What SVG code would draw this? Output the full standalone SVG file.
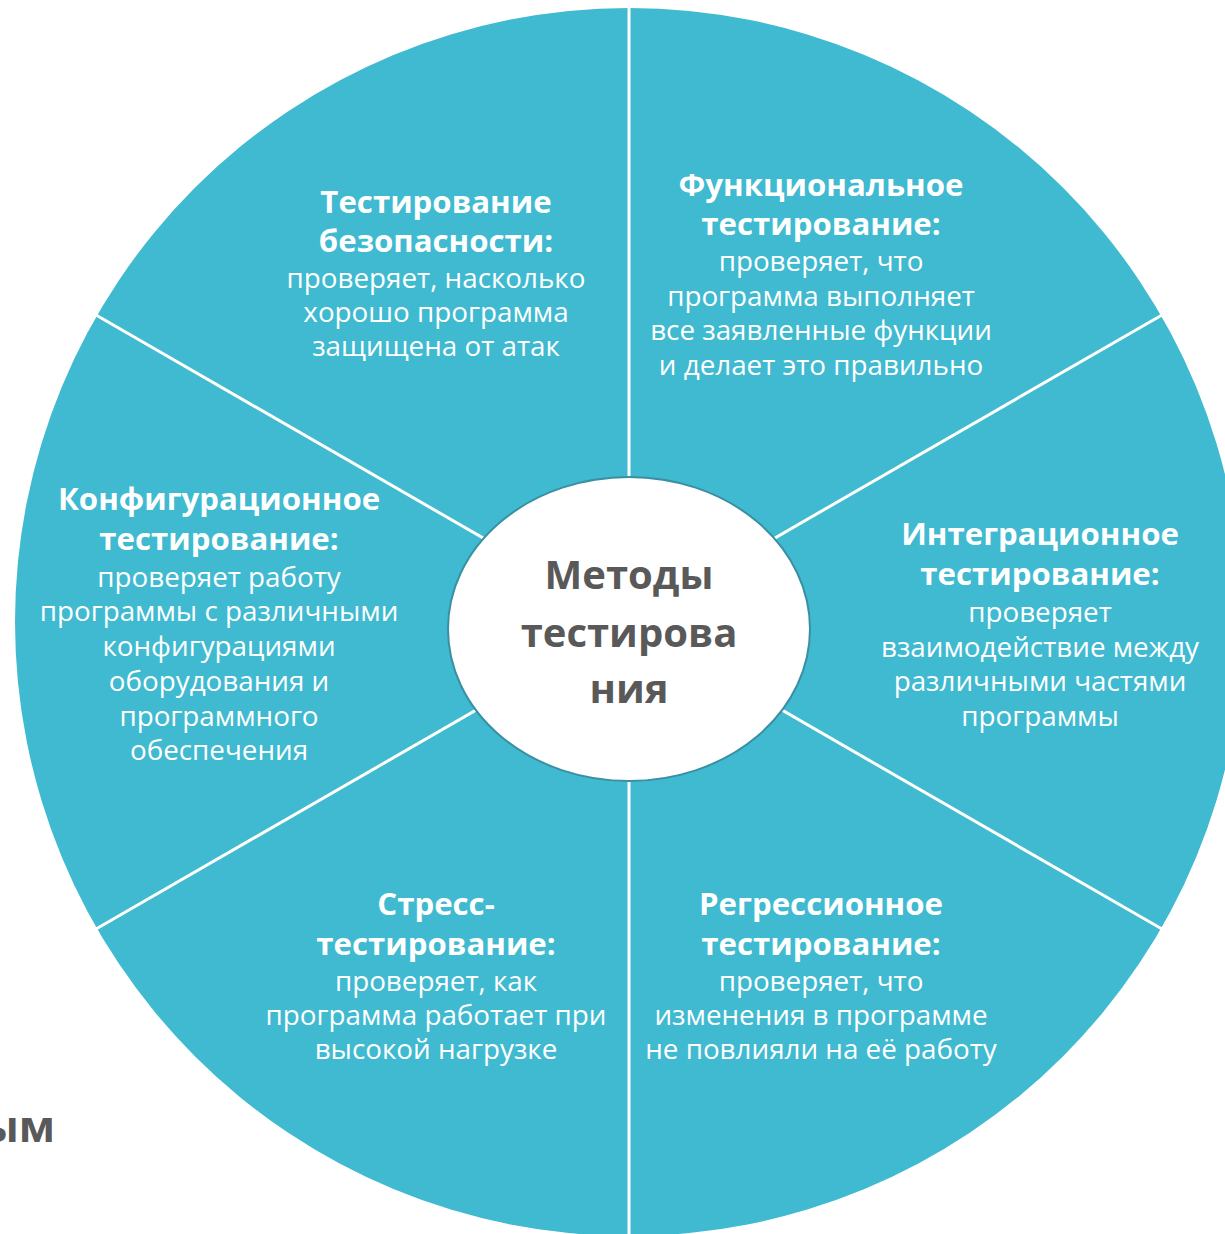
<svg xmlns="http://www.w3.org/2000/svg" width="1225" height="1234" viewBox="0 0 1225 1234">
<style>
.t{font-family:"Open Sans","Noto Sans","DejaVu Sans",sans-serif;fill:#fff;text-anchor:middle}
.h{font-weight:700;font-size:31.2px}
.b{font-size:27.8px}
.c{font-family:"Open Sans","Noto Sans","DejaVu Sans",sans-serif;fill:#595959;font-weight:700;font-size:40px;text-anchor:middle}
.div{stroke:#fff;stroke-width:3;fill:none}
</style>
<rect width="1225" height="1234" fill="#fff"/>
<text class="c" x="55" y="1142" style="text-anchor:end;font-size:43px">ым</text>
<circle id="wheel" cx="629" cy="622" r="614" fill="#3FBAD0"/>
<g id="connectors">
<line class="div" x1="629" y1="0" x2="629" y2="1234"/>
<line class="div" x1="629" y1="622" x2="96" y2="315"/>
<line class="div" x1="629" y1="622" x2="1162" y2="315"/>
<line class="div" x1="629" y1="622" x2="96" y2="929"/>
<line class="div" x1="629" y1="622" x2="1162" y2="929"/>
</g>
<g id="security">
<text class="t h" x="436" y="213">Тестирование</text>
<text class="t h" x="436" y="252">безопасности:</text>
<text class="t b" x="436" y="288">проверяет, насколько</text>
<text class="t b" x="436" y="322">хорошо программа</text>
<text class="t b" x="436" y="356">защищена от атак</text>
</g>
<g id="functional">
<text class="t h" x="821" y="196">Функциональное</text>
<text class="t h" x="821" y="235">тестирование:</text>
<text class="t b" x="821" y="271">проверяет, что</text>
<text class="t b" x="821" y="306">программа выполняет</text>
<text class="t b" x="821" y="340">все заявленные функции</text>
<text class="t b" x="821" y="375">и делает это правильно</text>
</g>
<g id="configuration">
<text class="t h" x="219" y="510">Конфигурационное</text>
<text class="t h" x="219" y="550">тестирование:</text>
<text class="t b" x="219" y="587">проверяет работу</text>
<text class="t b" x="219" y="621">программы с различными</text>
<text class="t b" x="219" y="656">конфигурациями</text>
<text class="t b" x="219" y="691">оборудования и</text>
<text class="t b" x="219" y="726">программного</text>
<text class="t b" x="219" y="760">обеспечения</text>
</g>
<g id="integration">
<text class="t h" x="1040" y="545">Интеграционное</text>
<text class="t h" x="1040" y="585">тестирование:</text>
<text class="t b" x="1040" y="622">проверяет</text>
<text class="t b" x="1040" y="657">взаимодействие между</text>
<text class="t b" x="1040" y="691">различными частями</text>
<text class="t b" x="1040" y="726">программы</text>
</g>
<g id="stress">
<text class="t h" x="436" y="915">Стресс-</text>
<text class="t h" x="436" y="955">тестирование:</text>
<text class="t b" x="436" y="991">проверяет, как</text>
<text class="t b" x="436" y="1025">программа работает при</text>
<text class="t b" x="436" y="1059">высокой нагрузке</text>
</g>
<g id="regression">
<text class="t h" x="821" y="915">Регрессионное</text>
<text class="t h" x="821" y="955">тестирование:</text>
<text class="t b" x="821" y="991">проверяет, что</text>
<text class="t b" x="821" y="1025">изменения в программе</text>
<text class="t b" x="821" y="1059">не повлияли на её работу</text>
</g>
<g id="center">
<ellipse cx="629" cy="629" rx="181" ry="152" fill="#fff" stroke="#3A8FA2" stroke-width="2"/>
<text class="c" x="629" y="589">Методы</text>
<text class="c" x="629" y="647">тестирова</text>
<text class="c" x="629" y="703">ния</text>
</g>
</svg>
